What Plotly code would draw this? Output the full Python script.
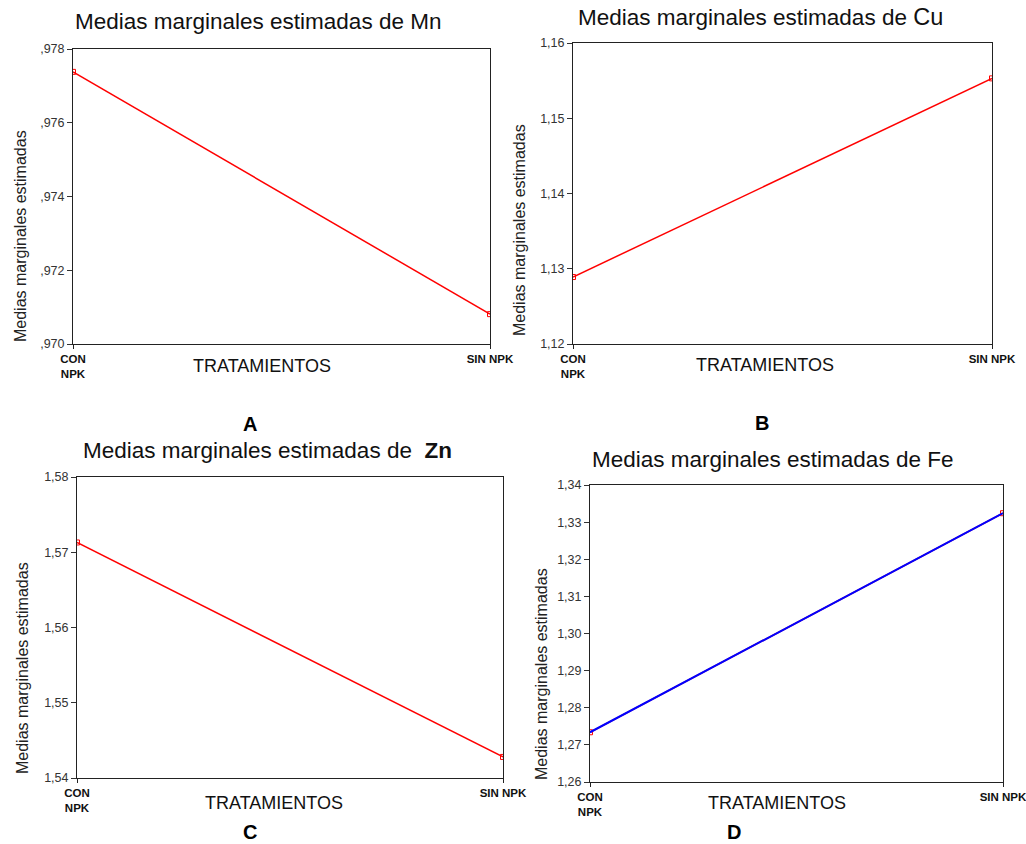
import plotly.graph_objects as go

W, H = 1026, 844

# Treatment groups (x categories)
tratamientos = ["CON NPK", "SIN NPK"]
tratamiento_ticktext = ["CON<br>NPK", "SIN NPK"]

# Estimated marginal means per element
medias_mn = [0.97738, 0.97081]
medias_cu = [1.1289, 1.1553]
medias_zn = [1.5713, 1.5428]
medias_fe = [1.2734, 1.3324]

# Y tick values and labels (comma decimal separator)
ticks_mn = [0.970, 0.972, 0.974, 0.976, 0.978]
labels_mn = [",970", ",972", ",974", ",976", ",978"]
ticks_cu = [1.12, 1.13, 1.14, 1.15, 1.16]
labels_cu = ["1,12", "1,13", "1,14", "1,15", "1,16"]
ticks_zn = [1.54, 1.55, 1.56, 1.57, 1.58]
labels_zn = ["1,54", "1,55", "1,56", "1,57", "1,58"]
ticks_fe = [1.26, 1.27, 1.28, 1.29, 1.30, 1.31, 1.32, 1.33, 1.34]
labels_fe = ["1,26", "1,27", "1,28", "1,29", "1,30", "1,31", "1,32", "1,33", "1,34"]

titulos = [
    "Medias marginales estimadas de Mn",
    "Medias marginales estimadas de <span style='font-size:23.5px'>Cu</span>",
    "Medias marginales estimadas de  <b>Zn</b>",
    "Medias marginales estimadas de Fe",
]
paneles = ["A", "B", "C", "D"]
eje_y = "Medias marginales estimadas"
eje_x = "TRATAMIENTOS"

FONT = "Liberation Sans, Arial, sans-serif"


def px_x(p):
    return p / W


def px_y(p):
    return 1 - p / H


# plot-area boxes in pixels: (left, right, top, bottom)
boxes = [
    (73, 490, 49, 344),
    (573, 992, 43, 344),
    (77, 503, 477, 778),
    (590, 1003, 485, 782),
]
# text anchors in pixels
title_pos = [(258, 22), (760, 17), (267, 450), (772, 460)]
ytitle_pos = [(20, 236), (520, 230), (22, 668), (541, 674)]
xtitle_pos = [(262, 366), (765, 365), (274, 803), (777, 803)]
panel_pos = [(250, 424), (762, 423), (250, 832), (734, 832)]

series = [medias_mn, medias_cu, medias_zn, medias_fe]
yticks = [(ticks_mn, labels_mn), (ticks_cu, labels_cu), (ticks_zn, labels_zn), (ticks_fe, labels_fe)]

fig = go.Figure()
layout = dict(
    width=W,
    height=H,
    margin=dict(l=0, r=0, t=0, b=0, pad=0),
    paper_bgcolor="white",
    plot_bgcolor="white",
    showlegend=False,
    font=dict(family=FONT, color="#111"),
)
annotations = []

for i, (box, vals, (tv, tt)) in enumerate(zip(boxes, series, yticks)):
    n = "" if i == 0 else str(i + 1)
    xa, ya = "x" + n, "y" + n
    left, right, top, bottom = box

    # red line with small open square markers
    fig.add_trace(go.Scatter(
        x=tratamientos, y=vals, xaxis=xa, yaxis=ya, mode="lines+markers",
        line=dict(color="#ff0000", width=1.5),
        marker=dict(symbol="square-open", size=5, color="#ff0000", line=dict(width=1)),
        hoverinfo="x+y",
    ))
    if i == 3:
        # Fe series drawn in blue over the red markers
        fig.add_trace(go.Scatter(
            x=tratamientos, y=vals, xaxis=xa, yaxis=ya, mode="lines",
            line=dict(color="#0000ff", width=2),
            hoverinfo="x+y",
        ))

    layout["xaxis" + n] = dict(
        domain=[px_x(left), px_x(right)],
        anchor=ya,
        type="category",
        range=[0, 1],
        tickvals=tratamientos,
        ticktext=tratamiento_ticktext,
        ticks="outside", ticklen=4, tickcolor="#222",
        tickfont=dict(family=FONT, size=11.5, color="#111", weight="bold"),
        showline=True, linecolor="#222", linewidth=1, mirror=True,
        showgrid=False, zeroline=False, fixedrange=True, automargin=False,
    )
    layout["yaxis" + n] = dict(
        domain=[px_y(bottom), px_y(top)],
        anchor=xa,
        range=[tv[0], tv[-1]],
        tickvals=tv,
        ticktext=tt,
        ticks="outside", ticklen=5, tickcolor="#333",
        tickfont=dict(family=FONT, size=12.5, color="#333"),
        showline=True, linecolor="#222", linewidth=1, mirror=True,
        showgrid=False, zeroline=False, fixedrange=True, automargin=False,
    )

    tx, ty = title_pos[i]
    annotations.append(dict(
        text=titulos[i], x=px_x(tx), y=px_y(ty), xref="paper", yref="paper",
        showarrow=False, xanchor="center", yanchor="middle",
        font=dict(family=FONT, size=22.5, color="#111"),
    ))
    yx, yy = ytitle_pos[i]
    annotations.append(dict(
        text=eje_y, x=px_x(yx), y=px_y(yy), xref="paper", yref="paper",
        showarrow=False, xanchor="center", yanchor="middle", textangle=-90,
        font=dict(family=FONT, size=16, color="#222"),
    ))
    xx, xy = xtitle_pos[i]
    annotations.append(dict(
        text=eje_x, x=px_x(xx), y=px_y(xy), xref="paper", yref="paper",
        showarrow=False, xanchor="center", yanchor="middle",
        font=dict(family=FONT, size=18, color="#111"),
    ))
    lx, ly = panel_pos[i]
    annotations.append(dict(
        text="<b>" + paneles[i] + "</b>", x=px_x(lx), y=px_y(ly), xref="paper", yref="paper",
        showarrow=False, xanchor="center", yanchor="middle",
        font=dict(family=FONT, size=20, color="#000"),
    ))

layout["annotations"] = annotations
fig.update_layout(**layout)
fig.write_html("out.html")
